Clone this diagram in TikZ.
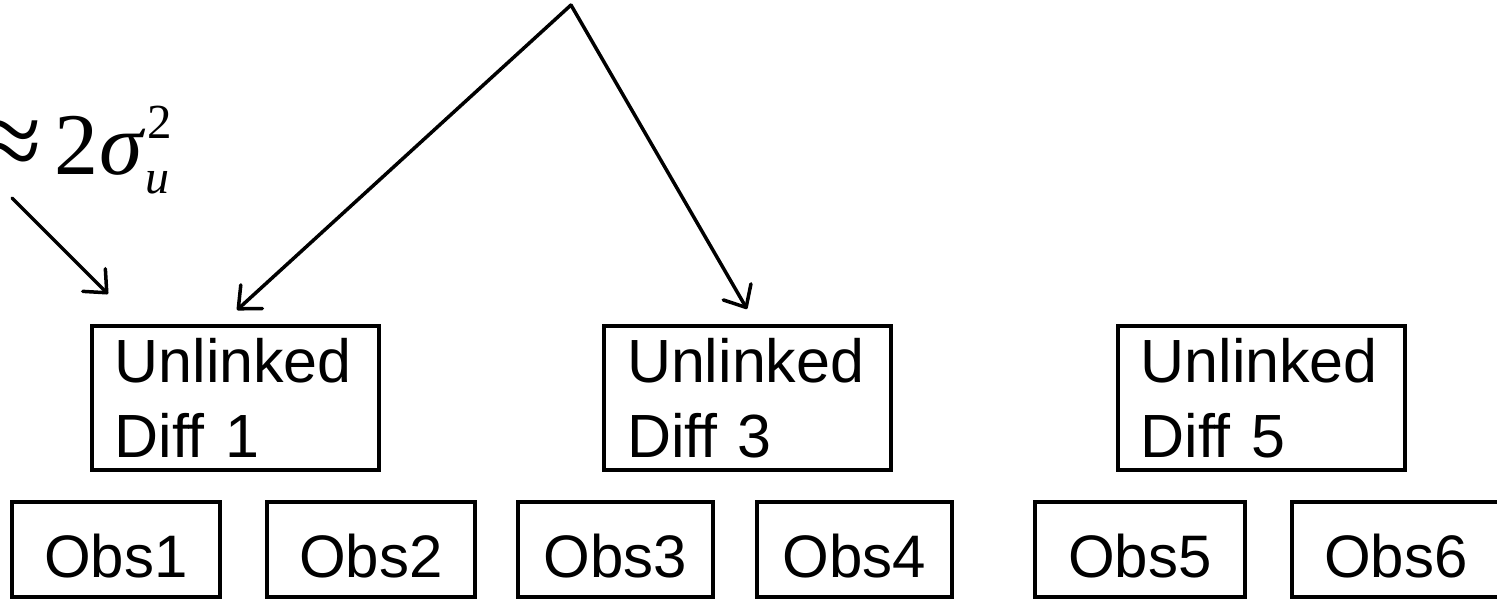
\documentclass[tikz,border=0pt]{standalone}
\usepackage{fontspec}
\setmainfont{Liberation Sans}
\newfontfamily\mathserif{Liberation Serif}
\usetikzlibrary{arrows.meta}

\begin{document}
\begin{tikzpicture}[x=1pt,y=-1pt,
  diffbox/.style={draw,line width=4pt,minimum width=287pt,minimum height=144pt,
    inner xsep=23pt,inner ysep=0pt,text width=241pt,align=left,
    font=\fontsize{61}{75}\selectfont},
  obsbox/.style={draw,line width=4pt,minimum height=95pt,inner sep=0pt,
    text height=55pt,text depth=0pt,font=\fontsize{60}{72}\selectfont},
  conn/.style={line width=3.5pt,line cap=round,
    -{Straight Barb[length=18pt,width=32pt,line width=3.5pt,round]}},
  mathpart/.style={inner sep=0pt,anchor=base west}]
\useasboundingbox (0,0) rectangle (1497,598);

% difference boxes
\node[diffbox] (d1) at (235,398) {Unlinked\\Diff 1};
\node[diffbox] (d3) at (747.5,398) {Unlinked\\Diff 3};
\node[diffbox] (d5) at (1261,398) {Unlinked\\Diff 5};

% observation boxes
\node[obsbox,minimum width=208pt] (o1) at (116,549.5) {Obs1};
\node[obsbox,minimum width=208pt] (o2) at (371,549.5) {Obs2};
\node[obsbox,minimum width=195pt] (o3) at (615.5,549.5) {Obs3};
\node[obsbox,minimum width=195pt] (o4) at (854.5,549.5) {Obs4};
\node[obsbox,minimum width=210pt] (o5) at (1140,549.5) {Obs5};
\node[obsbox,minimum width=208pt] (o6) at (1396,549.5) {Obs6};

% variance label
\node[mathpart,anchor=base east,font=\mathserif\fontsize{112}{112}\selectfont] (approx) at (42,178) {≈};
\node[mathpart,font=\mathserif\fontsize{88}{88}\selectfont] (two) at (54,174) {2};
\node[mathpart,font=\mathserif\itshape\fontsize{88}{88}\selectfont] (sigma) at (99,174) {σ};
\node[mathpart,font=\mathserif\fontsize{49}{49}\selectfont] (sup) at (147,138) {2};
\node[mathpart,font=\mathserif\itshape\fontsize{48}{48}\selectfont] (sub) at (145,193) {u};

% connectors
\coordinate (apex) at (571,5);
\coordinate (lblfoot) at (12,198);
\coordinate (t1) at (237,310);
\coordinate (t1b) at (108,294);
\coordinate (t3) at (747,309);
\draw[conn] (apex) -- (t1);
\draw[conn] (apex) -- (t3);
\draw[conn] (lblfoot) -- (t1b);
\end{tikzpicture}
\end{document}
